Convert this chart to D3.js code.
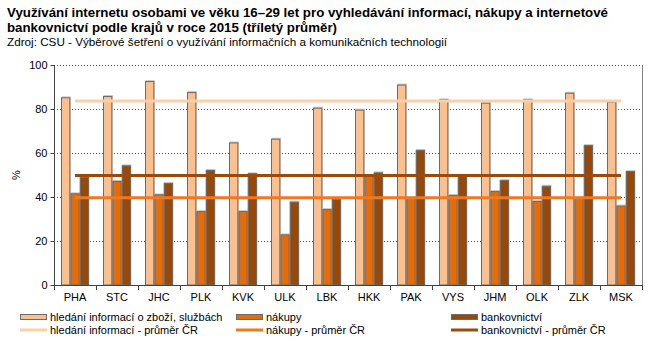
<!DOCTYPE html>
<html><head><meta charset="utf-8">
<script src="https://cdn.jsdelivr.net/npm/d3@7/dist/d3.min.js"></script>
<style>body{margin:0;background:#fff}svg{display:block;font-family:"Liberation Sans",Arial,sans-serif}</style>
</head><body>
<script>
const categories = ["PHA","STC","JHC","PLK","KVK","ULK","LBK","HKK","PAK","VYS","JHM","OLK","ZLK","MSK"];
const hledani = [85.3,85.9,92.7,87.7,64.8,66.5,80.6,79.7,91.1,84.4,82.9,84.4,87.4,83.3];
const nakupy = [41.7,47.3,41.2,33.6,33.6,23.0,34.5,50.0,39.8,40.9,42.7,38.2,39.8,36.1];
const bankovnictvi = [49.2,54.4,46.4,52.3,50.8,37.9,39.1,51.2,61.4,49.9,47.7,45.1,63.6,51.8];
const prumerHledani = 83.6, prumerNakupy = 39.7, prumerBankovnictvi = 49.8;
const yTicks = [0,20,40,60,80,100];
const seriesNames = ["hledání informací o zboží, službách","nákupy","bankovnictví"];
const lineNames = ["hledání informací - průměr ČR","nákupy - průměr ČR","bankovnictví - průměr ČR"];
const barColors = ["#FAC090","#E46C0A","#984807"];
const lineColors = ["#FBCFA8","#F07820","#9C4A0A"];

const W=652,H=345;
const svg=d3.select("body").append("svg").attr("width",W).attr("height",H);
const L=54,R=642,T=65,B=285;
const x=d3.scaleBand().domain(categories).range([L,R]).paddingInner(0).paddingOuter(0);
const x1=d3.scaleBand().domain([0,1,2]).range([x.bandwidth()/6, x.bandwidth()*5/6]);
const y=d3.scaleLinear().domain([0,100]).range([B,T]);

// title
svg.append("text").attr("x",7).attr("y",17).attr("font-weight","bold").attr("font-size",13).attr("fill","#000")
 .text("Využívání internetu  osobami ve věku 16–29 let pro vyhledávání  informací, nákupy a internetové")
 .attr("textLength",601).attr("lengthAdjust","spacingAndGlyphs");
svg.append("text").attr("x",7).attr("y",32).attr("font-weight","bold").attr("font-size",13).attr("fill","#000")
 .text("bankovnictví podle krajů v roce 2015 (tříletý průměr)")
 .attr("textLength",330).attr("lengthAdjust","spacingAndGlyphs");
svg.append("text").attr("x",7).attr("y",46).attr("font-size",11).attr("fill","#000")
 .text("Zdroj: CSU - Výběrové šetření o využívání informačních a komunikačních technologií")
 .attr("textLength",440).attr("lengthAdjust","spacingAndGlyphs");

// gridlines
svg.append("g").selectAll("line").data(yTicks.filter(d=>d>0)).join("line")
 .attr("x1",L).attr("x2",R).attr("y1",d=>y(d)+0.5).attr("y2",d=>y(d)+0.5)
 .attr("stroke","#555").attr("stroke-width",1).attr("stroke-dasharray","1,2");
// right border
svg.append("line").attr("x1",R+0.5).attr("x2",R+0.5).attr("y1",T).attr("y2",B).attr("stroke","#7f7f7f");

// bars
const data=[hledani,nakupy,bankovnictvi];
const g=svg.append("g");
categories.forEach((c,i)=>{
  data.forEach((s,k)=>{
    const bx=x(c)+x1(k), bw=x1.bandwidth(), v=s[i];
    g.append("rect").attr("x",bx+0.5).attr("y",y(v)-1).attr("width",bw).attr("height",B-y(v)+1).attr("fill","#c8c8c8");
    g.append("rect").attr("x",bx+0.5).attr("y",y(v)+0.5).attr("width",bw-1).attr("height",B-y(v)-0.5)
      .attr("fill",barColors[k]).attr("stroke","#6b6b6b").attr("stroke-width",1);
  });
});

// average lines
const avgs=[prumerHledani,prumerNakupy,prumerBankovnictvi];
avgs.forEach((a,k)=>{
  svg.append("line").attr("x1",x(categories[0])+x.bandwidth()/2).attr("x2",x(categories[categories.length-1])+x.bandwidth()/2)
   .attr("y1",y(a)).attr("y2",y(a)).attr("stroke",lineColors[k]).attr("stroke-width",3);
});

// axes
const ya=svg.append("g").attr("transform",`translate(${L+0.5},0)`)
 .call(d3.axisLeft(y).tickValues(yTicks).tickSize(4).tickPadding(3));
ya.select(".domain").attr("stroke","#444").attr("d",`M0,${T}V${B}`);
ya.selectAll(".tick line").attr("stroke","#444");
ya.selectAll("text").attr("font-size",11).attr("fill","#000").attr("font-family","Liberation Sans, Arial, sans-serif");

const xa=svg.append("g").attr("transform",`translate(0,${B+0.5})`).call(d3.axisBottom(x).tickSize(0).tickPadding(8));
xa.select(".domain").attr("stroke","#444").attr("d",`M${L},0H${R+1}`);
xa.selectAll("text").attr("font-size",11).attr("fill","#000").attr("font-family","Liberation Sans, Arial, sans-serif");
// category boundary ticks
svg.append("g").selectAll("line").data(d3.range(categories.length+1)).join("line")
 .attr("x1",d=>L+d*x.bandwidth()+0.5).attr("x2",d=>L+d*x.bandwidth()+0.5)
 .attr("y1",B).attr("y2",B+5).attr("stroke","#444");

svg.append("text").attr("transform","translate(20,175) rotate(-90)").attr("text-anchor","middle")
 .attr("font-size",11).text("%");

// legend
const cols=[20,236,451];
const leg=svg.append("g").attr("font-size",11);
seriesNames.forEach((n,k)=>{
  leg.append("rect").attr("x",cols[k]+0.5).attr("y",314.5).attr("width",26).attr("height",5)
   .attr("fill",barColors[k]).attr("stroke","#6b6b6b");
  leg.append("text").attr("x",cols[k]+30).attr("y",321).text(n);
});
lineNames.forEach((n,k)=>{
  leg.append("line").attr("x1",cols[k]).attr("x2",cols[k]+27).attr("y1",330).attr("y2",330)
   .attr("stroke",lineColors[k]).attr("stroke-width",3);
  leg.append("text").attr("x",cols[k]+30).attr("y",334).text(n);
});
</script>
</body></html>
